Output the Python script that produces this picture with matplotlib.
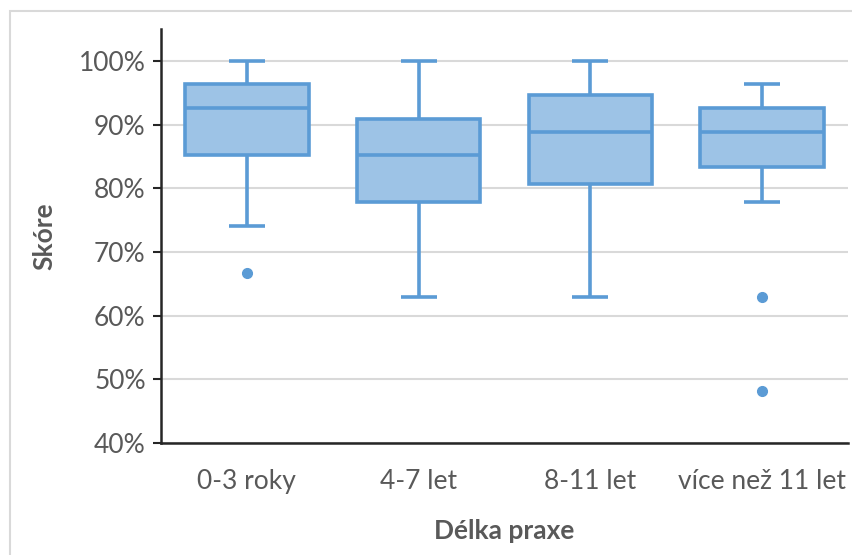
import matplotlib.pyplot as plt
from matplotlib.patches import Rectangle
from matplotlib.ticker import FuncFormatter

# data (percent)
categories = ["0-3 roky", "4-7 let", "8-11 let", "více než 11 let"]
whis_low = [74.1, 63.0, 63.0, 77.8]
q1 = [85.2, 77.9, 80.7, 83.3]
median = [92.6, 85.2, 88.9, 88.9]
q3 = [96.3, 90.8, 94.6, 92.6]
whis_high = [100.0, 100.0, 100.0, 96.3]
outliers = [[66.7], [], [], [63.0, 48.1]]

line_col = "#5B9BD5"
fill_col = "#9DC3E6"
text_col = "#595959"

plt.rcParams['font.family'] = ['Lato', 'DejaVu Sans']

fig = plt.figure(figsize=(8.53, 5.55), dpi=100)
ax = fig.add_axes([161 / 853, 1 - 443 / 555, (848 - 161) / 853, (443 - 29) / 555])

stats = []
for i in range(len(categories)):
    stats.append({
        'whislo': whis_low[i], 'q1': q1[i], 'med': median[i],
        'q3': q3[i], 'whishi': whis_high[i], 'fliers': outliers[i],
    })

ax.bxp(stats, positions=range(len(categories)), widths=0.72,
       patch_artist=True, showfliers=True,
       boxprops=dict(facecolor=fill_col, edgecolor=line_col, linewidth=2.6),
       medianprops=dict(color=line_col, linewidth=2.6),
       whiskerprops=dict(color=line_col, linewidth=2.6, solid_capstyle='butt'),
       capprops=dict(color=line_col, linewidth=2.6, solid_capstyle='butt'),
       capwidths=0.21,
       flierprops=dict(marker='o', markersize=7, markerfacecolor=line_col,
                       markeredgecolor=line_col, linestyle='none'),
       zorder=3)

ax.set_xlim(-0.5, 3.5)
ax.set_ylim(40, 105)
ax.set_yticks([40, 50, 60, 70, 80, 90, 100])
ax.yaxis.set_major_formatter(FuncFormatter(lambda v, p: f"{v:.0f}%"))
ax.set_xticks(range(len(categories)))
ax.set_xticklabels(categories)

ax.grid(axis='y', color='#D9D9D9', linewidth=1.5, zorder=0)
ax.set_axisbelow(True)

for s in ['top', 'right']:
    ax.spines[s].set_visible(False)
for s in ['left', 'bottom']:
    ax.spines[s].set_color('#262626')
    ax.spines[s].set_linewidth(1.8)

ax.tick_params(axis='y', length=6, width=1.5, color='#262626', labelsize=19,
               labelcolor=text_col, pad=5)
ax.tick_params(axis='x', length=0, labelsize=19, labelcolor=text_col, pad=19)

ax.set_ylabel("Skóre", fontsize=19, fontweight='bold', color=text_col, labelpad=16)
ax.set_xlabel("Délka praxe", fontsize=19, fontweight='bold', color=text_col, labelpad=18)

# chart area border
fig.patches.append(Rectangle((10 / 853, -0.1), 1.1, 1 - 11 / 555 + 0.1,
                             transform=fig.transFigure, fill=False,
                             edgecolor='#D9D9D9', linewidth=1.5))

fig.savefig("out.png", dpi=100, facecolor='white')
